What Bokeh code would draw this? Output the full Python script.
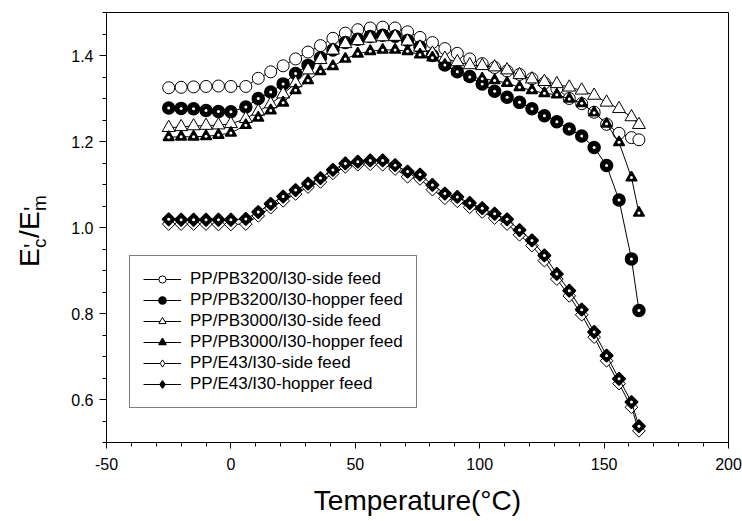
import numpy as np
from bokeh.plotting import figure
from bokeh.models import FixedTicker, Range1d, Legend, LegendItem, Div
from bokeh.layouts import row
from bokeh.embed import file_html
from bokeh.resources import INLINE

# ---- data ----
temperature = [-25, -20, -15, -10, -5, 0, 6, 11, 16, 21, 26, 31, 36, 41, 46, 51,
               56, 61, 66, 71, 76, 81, 86, 91, 96, 101, 106, 111, 116, 121, 126,
               131, 136, 141, 146, 151, 156, 161, 164]

pb3200_side = [1.325, 1.326, 1.327, 1.328, 1.329, 1.328,
               1.328, 1.347, 1.362, 1.376, 1.392, 1.408, 1.423, 1.440, 1.452, 1.460,
               1.464, 1.466, 1.464, 1.455, 1.442, 1.430, 1.416, 1.405, 1.392, 1.381,
               1.372, 1.364, 1.356, 1.346, 1.336, 1.323, 1.300, 1.288, 1.268, 1.240,
               1.219, 1.209, 1.204]
pb3200_hopper = [1.278, 1.277, 1.276, 1.272, 1.270, 1.269,
                 1.280, 1.300, 1.315, 1.334, 1.358, 1.377, 1.395, 1.413, 1.430, 1.438,
                 1.444, 1.447, 1.445, 1.435, 1.420, 1.400, 1.378, 1.362, 1.351, 1.334,
                 1.317, 1.303, 1.291, 1.276, 1.260, 1.246, 1.229, 1.213, 1.186, 1.144,
                 1.064, 0.927, 0.807]
pb3000_side = [1.232, 1.234, 1.236, 1.237, 1.238, 1.241,
               1.253, 1.270, 1.287, 1.310, 1.336, 1.366, 1.390, 1.412, 1.427, 1.434,
               1.440, 1.443, 1.444, 1.433, 1.419, 1.405, 1.393, 1.385, 1.378, 1.376,
               1.373, 1.366, 1.355, 1.345, 1.339, 1.334, 1.326, 1.319, 1.307, 1.291,
               1.276, 1.257, 1.239]
pb3000_hopper = [1.210, 1.211, 1.211, 1.212, 1.215, 1.220,
                 1.238, 1.255, 1.272, 1.290, 1.319, 1.342, 1.363, 1.375, 1.392, 1.404,
                 1.410, 1.413, 1.413, 1.410, 1.402, 1.395, 1.378, 1.362, 1.350, 1.346,
                 1.342, 1.336, 1.326, 1.319, 1.312, 1.309, 1.299, 1.289, 1.267, 1.241,
                 1.198, 1.116, 1.034]
e43_side = [1.008, 1.008, 1.008, 1.008, 1.007, 1.007,
            1.008, 1.027, 1.046, 1.062, 1.078, 1.094, 1.106, 1.126, 1.141, 1.146,
            1.147, 1.146, 1.136, 1.118, 1.113, 1.088, 1.068, 1.061, 1.047, 1.036,
            1.022, 1.008, 0.983, 0.958, 0.923, 0.880, 0.841, 0.797, 0.745, 0.690,
            0.637, 0.582, 0.527]
e43_hopper = [1.019, 1.018, 1.018, 1.018, 1.018, 1.018,
              1.020, 1.036, 1.055, 1.072, 1.087, 1.102, 1.115, 1.134, 1.149, 1.153,
              1.156, 1.156, 1.145, 1.130, 1.123, 1.099, 1.079, 1.071, 1.057, 1.045,
              1.032, 1.019, 0.994, 0.970, 0.935, 0.892, 0.853, 0.809, 0.757, 0.702,
              0.648, 0.594, 0.538]

labels = ["PP/PB3200/I30-side feed", "PP/PB3200/I30-hopper feed",
          "PP/PB3000/I30-side feed", "PP/PB3000/I30-hopper feed",
          "PP/E43/I30-side feed", "PP/E43/I30-hopper feed"]

x_major = [-50, 0, 50, 100, 150, 200]
x_minor = [-50, -40, -30, -20, -10, 0, 10, 20, 30, 40, 50, 60, 70, 80, 90, 100,
           110, 120, 130, 140, 150, 160, 170, 180, 190, 200]
y_major = [0.6, 0.8, 1.0, 1.2, 1.4]
y_minor = [0.5, 0.55, 0.6, 0.65, 0.7, 0.75, 0.8, 0.85, 0.9, 0.95, 1.0, 1.05, 1.1,
           1.15, 1.2, 1.25, 1.3, 1.35, 1.4, 1.45, 1.5]

FONT = "Liberation Sans"
LABEL_W = 50

p = figure(width=742 - LABEL_W, height=521, x_range=Range1d(-50, 200), y_range=Range1d(0.5, 1.5),
           output_backend="svg", toolbar_location=None,
           min_border_left=106 - LABEL_W, min_border_right=14, min_border_top=12, min_border_bottom=79)
p.grid.visible = False
p.outline_line_color = "black"
p.outline_line_width = 1
p.background_fill_color = "white"
p.border_fill_color = "white"

for ax in (p.xaxis[0], p.yaxis[0]):
    ax.axis_line_color = "black"
    ax.major_tick_line_color = "black"
    ax.minor_tick_line_color = "black"
    ax.major_tick_in = 0
    ax.minor_tick_in = 0
    ax.minor_tick_out = 4
    ax.major_label_text_font = FONT
    ax.major_label_text_color = "black"
    ax.major_label_text_font_size = "16px"

p.xaxis.ticker = FixedTicker(ticks=x_major, minor_ticks=x_minor)
p.yaxis.ticker = FixedTicker(ticks=y_major, minor_ticks=y_minor)
p.xaxis.major_tick_out = 6
p.yaxis.major_tick_out = 7
p.xaxis.major_label_standoff = 9
p.yaxis.major_label_standoff = 6
p.xaxis.major_label_overrides = {-50: "-50", 0: "0", 50: "50", 100: "100", 150: "150", 200: "200"}
p.yaxis.major_label_overrides = {0.6: "0.6", 0.8: "0.8", 1.0: "1.0", 1.2: "1.2", 1.4: "1.4"}

p.xaxis.axis_label = "Temperature(°C)"
p.xaxis.axis_label_text_font = FONT
p.xaxis.axis_label_text_font_size = "28px"
p.xaxis.axis_label_text_font_style = "normal"
p.xaxis.axis_label_text_color = "black"
p.xaxis.axis_label_standoff = 12

series = [
    (pb3200_side, "circle", 12, False),
    (pb3200_hopper, "circle", 12, True),
    (pb3000_side, "triangle", 13, False),
    (pb3000_hopper, "triangle", 11, True),
    (e43_side, "square", 9, False),
    (e43_hopper, "square", 9, True),
]

items = []
for (vals, marker, size, filled), lab in zip(series, labels):
    angle = np.pi / 4 if marker == "square" else 0.0
    fill = "black" if filled else "white"
    lw = 1.5 if filled else 1
    line_r = p.line(temperature, vals, line_color="black", line_width=1)
    mark_r = p.scatter(temperature, vals, marker=marker, size=size, angle=angle,
                       fill_color=fill, line_color="black", line_width=lw)
    if filled:
        p.scatter(temperature, vals, marker="circle", size=3,
                  fill_color="white", line_color=None)
    if marker == "square":
        # legend-only glyph (rotated squares are not rotated in legends)
        leg_r = p.scatter([np.nan], [np.nan], marker="diamond", size=14,
                          fill_color=fill, line_color="black", line_width=lw)
        items.append(LegendItem(label=lab, renderers=[line_r, leg_r]))
    else:
        items.append(LegendItem(label=lab, renderers=[line_r, mark_r]))

legend = Legend(items=items, location=(23, 34))
legend.border_line_color = "black"
legend.border_line_width = 1
legend.background_fill_color = "white"
legend.background_fill_alpha = 1
legend.label_text_font = FONT
legend.label_text_font_size = "17px"
legend.label_text_color = "black"
legend.glyph_width = 38
legend.glyph_height = 18
legend.label_height = 18
legend.spacing = 1
legend.padding = 13
legend.margin = 0
legend.label_standoff = 9
p.add_layout(legend)

# y-axis label E'c/E'm : rotated HTML text in a narrow column left of the plot
def piece(text, u, top, size):
    return ('<span style="position:absolute;left:%.1fpx;top:%.1fpx;font-size:%dpx;'
            'line-height:%dpx;white-space:nowrap;">%s</span>' % (u, top, size, size, text))

inner = (piece("E", 0, 16.3, 28) + piece("'", 19, 20.7, 24) + piece("c", 19, 29.9, 19)
         + piece("/", 29, 16.3, 28) + piece("E", 37, 16.3, 28)
         + piece("'", 56, 20.7, 24) + piece("m", 56, 29.9, 19))
html = ('<div style="position:relative;width:%dpx;height:521px;background:white;">'
        '<div style="position:absolute;left:0px;top:267px;width:120px;height:50px;'
        'transform:rotate(-90deg);transform-origin:0 0;font-family:\'Liberation Sans\';'
        'color:black;">%s</div></div>' % (LABEL_W, inner))
ylabel = Div(text=html, width=LABEL_W, height=521,
             styles={"margin": "0", "padding": "0", "background-color": "white"})

layout = row(ylabel, p, spacing=0)
open("out.html", "w").write(file_html(layout, INLINE))
